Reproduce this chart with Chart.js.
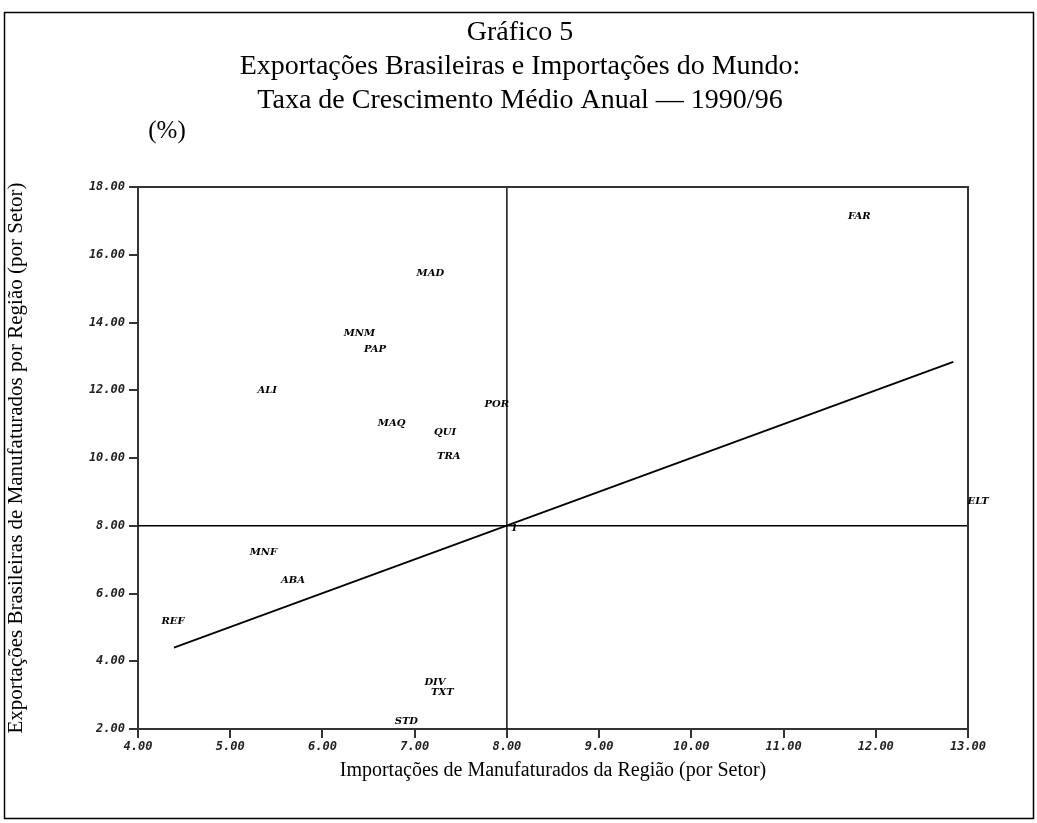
<!DOCTYPE html>
<html>
<head>
<meta charset="utf-8">
<script src="https://cdn.jsdelivr.net/npm/chart.js@4"></script>
<style>
  html, body { margin: 0; padding: 0; background: #fff; }
  #wrap { width: 1037px; height: 823px; position: relative; }
</style>
</head>
<body>
<div id="wrap"><canvas id="c" width="1037" height="823"></canvas></div>
<script>
// ---- Data ----
const sectors  = ['FAR','MAD','MNM','PAP','ALI','MAQ','QUI','POR','TRA','ELT','MNF','ABA','REF','DIV','TXT','STD','1'];
const importGrowth = [11.82, 7.17, 6.40, 6.57, 5.40, 6.75, 7.33, 7.89, 7.37, 13.11, 5.36, 5.68, 4.38, 7.22, 7.30, 6.91, 8.08];
const exportGrowth = [17.12, 15.46, 13.69, 13.22, 12.01, 11.01, 10.77, 11.57, 10.04, 8.71, 7.20, 6.38, 5.17, 3.37, 3.07, 2.22, 7.92];
const diagX = [4.39, 12.84];
const diagY = [4.40, 12.84];
const meanImport = 8.0;
const meanExport = 8.0;
const xTicks = [4, 5, 6, 7, 8, 9, 10, 11, 12, 13];
const yTicks = [2, 4, 6, 8, 10, 12, 14, 16, 18];

const titleLines = ['Gráfico 5', 'Exportações Brasileiras e Importações do Mundo:', 'Taxa de Crescimento Médio Anual — 1990/96'];
const unitLabel = '(%)';
const xTitle = 'Importações de Manufaturados da Região (por Setor)';
const yTitle = 'Exportações Brasileiras de Manufaturados por Região (por Setor)';

const W = 1037, H = 823;

const pointData = sectors.map((s, i) => ({x: importGrowth[i], y: exportGrowth[i]}));

const decoPlugin = {
  id: 'deco',
  beforeDraw(chart) {
    const ctx = chart.ctx;
    ctx.save();
    ctx.fillStyle = '#fff';
    ctx.fillRect(0, 0, W, H);
    ctx.restore();
  },
  afterDraw(chart) {
    const ctx = chart.ctx;
    const a = chart.chartArea;
    const xs = chart.scales.x, ys = chart.scales.y;
    ctx.save();
    // outer frame
    ctx.strokeStyle = '#000';
    ctx.lineWidth = 1.5;
    ctx.strokeRect(4.5, 12.5, W - 8, H - 17);
    // plot frame top/right
    ctx.strokeStyle = '#333';
    ctx.lineWidth = 2;
    ctx.beginPath();
    ctx.moveTo(a.left, a.top);
    ctx.lineTo(a.right, a.top);
    ctx.lineTo(a.right, a.bottom);
    ctx.stroke();
    // titles
    ctx.fillStyle = '#000';
    ctx.font = '28px "Liberation Serif"';
    ctx.textAlign = 'center';
    ctx.textBaseline = 'middle';
    const ty = [33, 67, 101];
    titleLines.forEach((t, i) => ctx.fillText(t, 520, ty[i]));
    ctx.font = '25px "Liberation Serif"';
    ctx.fillText(unitLabel, 167, 131);
    // point labels
    ctx.font = 'bold italic 10px "DejaVu Serif"';
    sectors.forEach((s, i) => {
      const px = xs.getPixelForValue(importGrowth[i]);
      const py = ys.getPixelForValue(exportGrowth[i]);
      ctx.fillText(s, px, py);
    });
    ctx.restore();
  }
};

new Chart(document.getElementById('c'), {
  type: 'scatter',
  data: {
    datasets: [
      {
        label: 'Setores',
        data: pointData,
        pointRadius: 0,
        pointHoverRadius: 0,
        showLine: false
      },
      {
        label: 'Diagonal',
        data: diagX.map((x, i) => ({x, y: diagY[i]})),
        showLine: true,
        borderColor: '#000',
        borderWidth: 1.8,
        pointRadius: 0
      },
      {
        label: 'Média importações',
        data: [{x: meanImport, y: yTicks[0]}, {x: meanImport, y: yTicks[yTicks.length - 1]}],
        showLine: true,
        borderColor: '#000',
        borderWidth: 1.4,
        pointRadius: 0
      },
      {
        label: 'Média exportações',
        data: [{x: xTicks[0], y: meanExport}, {x: xTicks[xTicks.length - 1], y: meanExport}],
        showLine: true,
        borderColor: '#000',
        borderWidth: 1.4,
        pointRadius: 0
      }
    ]
  },
  options: {
    responsive: false,
    animation: false,
    events: [],
    layout: { padding: { left: 0, right: 69, top: 187, bottom: 30 } },
    plugins: {
      legend: { display: false },
      tooltip: { enabled: false },
      title: { display: false }
    },
    scales: {
      x: {
        type: 'linear',
        min: xTicks[0],
        max: xTicks[xTicks.length - 1],
        afterFit(s) { s.height = H - 30 - 729; },
        afterBuildTicks(s) { s.ticks = xTicks.map(v => ({value: v})); },
        ticks: {
          callback: v => Number(v).toFixed(2),
          font: { family: 'DejaVu Sans Mono', size: 12, style: 'italic', weight: 'bold' },
          color: '#222',
          padding: 2,
          maxRotation: 0,
          autoSkip: false
        },
        grid: { drawOnChartArea: false, drawTicks: true, tickLength: 9, color: '#333', lineWidth: 2 },
        border: { color: '#333', width: 2 },
        title: {
          display: true,
          text: xTitle,
          font: { family: 'Liberation Serif', size: 20 },
          color: '#000',
          padding: { top: 0, bottom: 10 }
        }
      },
      y: {
        type: 'linear',
        min: yTicks[0],
        max: yTicks[yTicks.length - 1],
        afterFit(s) { s.width = 138; },
        afterBuildTicks(s) { s.ticks = yTicks.map(v => ({value: v})); },
        ticks: {
          callback: v => Number(v).toFixed(2),
          font: { family: 'DejaVu Sans Mono', size: 12, style: 'italic', weight: 'bold' },
          color: '#222',
          padding: 4,
          autoSkip: false
        },
        grid: { drawOnChartArea: false, drawTicks: true, tickLength: 9, color: '#333', lineWidth: 2 },
        border: { color: '#333', width: 2 },
        title: {
          display: true,
          text: yTitle,
          font: { family: 'Liberation Serif', size: 21 },
          color: '#000',
          padding: { top: 4, bottom: 0 }
        }
      }
    }
  },
  plugins: [decoPlugin]
});
</script>
</body>
</html>
